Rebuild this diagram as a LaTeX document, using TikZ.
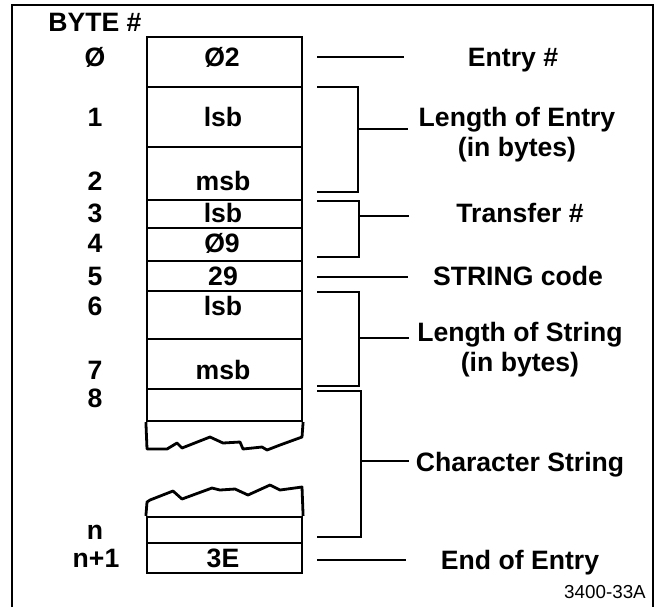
\documentclass[tikz,border=0pt]{standalone}
\usepackage{fontspec}
\setmainfont{Liberation Sans}
\usetikzlibrary{positioning}

\begin{document}
\begin{tikzpicture}[x=0.5pt, y=-0.5pt,
    cell/.style={draw, line width=1.1pt, minimum width=77.5pt, inner sep=0pt},
    txt/.style={font=\fontsize{13.3}{15}\selectfont\bfseries, inner sep=0pt, text height=9.5pt, text depth=0pt},
    desc/.style={font=\fontsize{13.3}{15}\selectfont\bfseries, inner sep=0pt, align=center},
    tag/.style={font=\fontsize{9.4}{11}\selectfont, inner sep=0pt},
    lead/.style={line width=1pt},
    tear/.style={line width=1.4pt, line join=round}]
  \useasboundingbox (0,0) rectangle (657,607);
  % frame, open at the bottom
  \draw[line width=0.7pt] (12,607) |- (653,5) -- (653,607);
  \node[txt] (hdr) at (95,22) {BYTE \#};

  % byte cells
  \node[cell, minimum height=25pt]   (c0) at (224.5,62)  {};
  \node[cell, minimum height=30pt]   (c1) at (224.5,117) {};
  \node[cell, minimum height=26.5pt] (c2) at (224.5,173.5) {};
  \node[cell, minimum height=14pt]   (c3) at (224.5,214) {};
  \node[cell, minimum height=16.5pt] (c4) at (224.5,244.5) {};
  \node[cell, minimum height=15pt]   (c5) at (224.5,276) {};
  \node[cell, minimum height=24pt]   (c6) at (224.5,315) {};
  \node[cell, minimum height=25pt]   (c7) at (224.5,364) {};
  \node[cell, minimum height=16pt]   (c8) at (224.5,405) {};
  \node[cell, minimum height=13pt]   (cn) at (224.5,530) {};
  \node[cell, minimum height=15pt]   (cm) at (224.5,558) {};

  % torn ends of the string
  \draw[tear] (c8.south west) -- (147,449) -- (167,449) -- (177,443) -- (182,448)
    -- (210,437) -- (223,443) -- (240,442) -- (243,449) -- (262,447) -- (267,450)
    -- (280,445) -- (302,437) -- (c8.south east);
  \draw[tear] (cn.north west) -- (147,502) -- (150,500) -- (173,491) -- (182,499)
    -- (212,488) -- (220,490) -- (235,489) -- (248,495) -- (270,485) -- (280,490)
    -- (302,487) -- (cn.north east);

  % byte numbers
  \node[txt] (b0) at (95,57)  {Ø};
  \node[txt] (b1) at (95,117) {1};
  \node[txt] (b2) at (95,181) {2};
  \node[txt] (b3) at (95,213) {3};
  \node[txt] (b4) at (95,243) {4};
  \node[txt] (b5) at (95,276) {5};
  \node[txt] (b6) at (95,306) {6};
  \node[txt] (b7) at (95,370) {7};
  \node[txt] (b8) at (95,398) {8};
  \node[txt] (bn) at (95,530) {n};
  \node[txt] (bm) at (96,558) {n+1};

  % cell contents
  \node[txt] (v0) at (222,57)  {Ø2};
  \node[txt] (v1) at (223,117) {lsb};
  \node[txt] (v2) at (223,181) {msb};
  \node[txt] (v3) at (223,213) {lsb};
  \node[txt] (v4) at (222,243) {Ø9};
  \node[txt] (v5) at (223,276) {29};
  \node[txt] (v6) at (223,306) {lsb};
  \node[txt] (v7) at (223,370) {msb};
  \node[txt] (vm) at (223,558) {3E};

  % field names
  \node[txt]  (d0) at (513,57)    {Entry \#};
  \node[desc] (d1) at (517,134.5) {Length of Entry\\(in bytes)};
  \node[txt]  (d2) at (520,213)   {Transfer \#};
  \node[txt]  (d3) at (518,276)   {STRING code};
  \node[desc] (d4) at (520,350)   {Length of String\\(in bytes)};
  \node[txt]  (d5) at (520,462)   {Character String};
  \node[txt]  (d6) at (520,560)   {End of Entry};
  \node[tag]  (fig) at (605,592)  {3400-33A};

  % leaders and brackets
  \draw[lead] (c0.east) ++(14,-5) -- ++(87,0);
  \draw[lead] (c1.north east) ++(14,1) -- ++(41,0) coordinate (s1) |- ++(-41,105);
  \draw[lead] (s1) ++(0,42) -- ++(50,0);
  \draw[lead] (c3.north east) ++(14,2) -- ++(42,0) coordinate (s2) |- ++(-42,56);
  \draw[lead] (s2) ++(0,15) -- ++(50,0);
  \draw[lead] (c5.east) ++(14,1) -- ++(91,0);
  \draw[lead] (c6.north east) ++(14,2) -- ++(42,0) coordinate (s3) |- ++(-42,94);
  \draw[lead] (s3) ++(0,46) -- ++(50,0);
  \draw[lead] (c8.north east) ++(14,3) -- ++(44,0) coordinate (s4) |- ++(-44,146);
  \draw[lead] (s4) ++(0,70) -- ++(48,0);
  \draw[lead] (cm.east) ++(14,2) -- ++(89,0);
\end{tikzpicture}
\end{document}
